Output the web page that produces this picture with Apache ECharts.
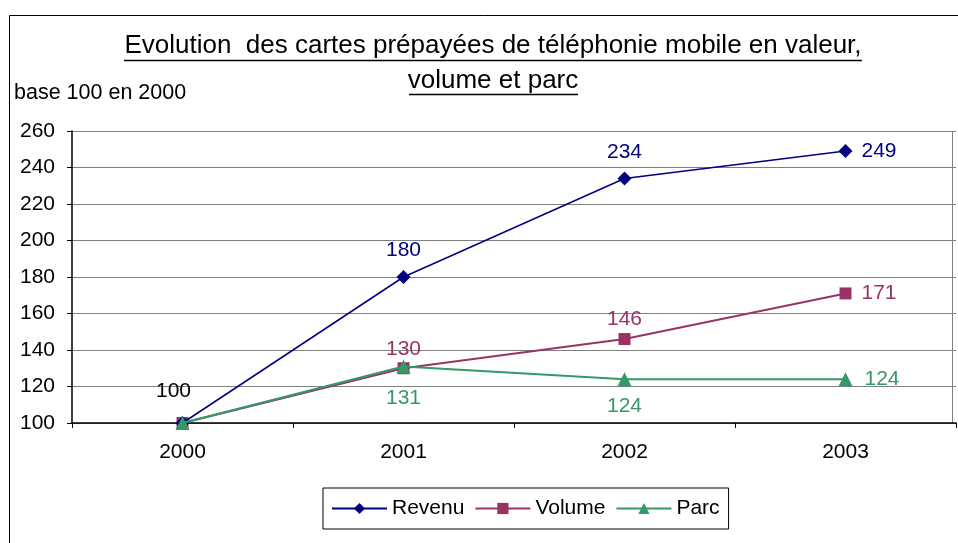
<!DOCTYPE html>
<html>
<head>
<meta charset="utf-8">
<script src="https://cdn.jsdelivr.net/npm/echarts@6/dist/echarts.min.js"></script>
<style>
  html, body { margin: 0; padding: 0; background: #fff; }
  #main { width: 958px; height: 543px; }
</style>
</head>
<body>
<div id="main"></div>
<script>
var years = ["2000", "2001", "2002", "2003"];
var revenu = [100, 180, 234, 249];
var volume = [100, 130, 146, 171];
var parc = [100, 131, 124, 124];

var FONT = "Liberation Sans";

// label placement per point, as in the original
var revenuPos = ["top", "top", "top", "right"];
var volumePos = ["top", "top", "top", "right"];
var parcPos = ["bottom", "bottom", "bottom", "right"];

function withLabels(values, positions, showFirst) {
  return values.map(function (v, i) {
    return {
      value: v,
      label: { show: i > 0 || showFirst, position: positions[i] }
    };
  });
}

var myChart = echarts.init(document.getElementById("main"));

var volumeData = withLabels(volume, volumePos, true);
// the "100" at 2000 is drawn in black, slightly left
volumeData[0].label.color = "#000";
volumeData[0].label.offset = [-9, -12];
volumeData[3].label.distance = 10;

var parcData = withLabels(parc, parcPos, false);
parcData[1].label.distance = 14;
parcData[3].label.distance = 12;

var option = {
  animation: false,
  textStyle: { fontFamily: FONT },
  grid: { left: 72, right: 2, top: 131, bottom: 120 },
  graphic: [
    // outer chart frame
    { type: "rect", shape: { x: 9.5, y: 15.5, width: 1000, height: 600 },
      style: { fill: null, stroke: "#000", lineWidth: 1 } },
    { type: "text", x: 493, y: 33,
      style: { text: "Evolution  des cartes prépayées de téléphonie mobile en valeur,",
        font: "26px " + FONT, fill: "#000", align: "center", verticalAlign: "top" } },
    { type: "text", x: 493, y: 68,
      style: { text: "volume et parc", font: "26px " + FONT, fill: "#000",
        align: "center", verticalAlign: "top" } },
    { type: "line", shape: { x1: 124, y1: 60.5, x2: 862, y2: 60.5 },
      style: { stroke: "#000", lineWidth: 1.5 } },
    { type: "line", shape: { x1: 409, y1: 94.5, x2: 578, y2: 94.5 },
      style: { stroke: "#000", lineWidth: 1.5 } },
    { type: "text", x: 14, y: 82,
      style: { text: "base 100 en 2000", font: "21.5px " + FONT, fill: "#000",
        verticalAlign: "top" } },
    // top and right border of plot area
    { type: "polyline", shape: { points: [[72, 131.5], [952.5, 131.5], [952.5, 423]] },
      style: { stroke: "#808080", lineWidth: 1, fill: null } }
  ],
  legend: {
    top: 488,
    left: 323,
    orient: "horizontal",
    borderColor: "#000",
    borderWidth: 1,
    padding: [10, 9, 10, 8],
    itemGap: 10,
    itemWidth: 55,
    itemHeight: 14,
    textStyle: { fontSize: 21, color: "#000", fontFamily: FONT },
    data: ["Revenu", "Volume", "Parc"]
  },
  xAxis: {
    type: "category",
    data: years,
    boundaryGap: true,
    axisLine: { lineStyle: { color: "#000", width: 1.5 } },
    axisTick: { show: true, length: 5, lineStyle: { color: "#000" } },
    axisLabel: { color: "#000", fontSize: 21, margin: 19, fontFamily: FONT }
  },
  yAxis: {
    type: "value",
    min: 100,
    max: 260,
    interval: 20,
    axisLine: { show: true, lineStyle: { color: "#000", width: 1.5 } },
    axisTick: { show: true, length: 5, lineStyle: { color: "#000" } },
    axisLabel: { color: "#000", fontSize: 21, margin: 17, fontFamily: FONT },
    splitLine: { lineStyle: { color: "#808080", width: 1 } }
  },
  series: [
    {
      name: "Revenu",
      type: "line",
      data: withLabels(revenu, revenuPos, false),
      symbol: "diamond",
      symbolSize: 14,
      lineStyle: { color: "#000080", width: 1.5 },
      itemStyle: { color: "#000080" },
      label: { color: "#000080", fontSize: 21, distance: 9, fontFamily: FONT },
      z: 3
    },
    {
      name: "Volume",
      type: "line",
      data: volumeData,
      symbol: "rect",
      symbolSize: 12,
      lineStyle: { color: "#993366", width: 2 },
      itemStyle: { color: "#993366" },
      label: { color: "#993366", fontSize: 21, distance: 3, fontFamily: FONT },
      z: 2
    },
    {
      name: "Parc",
      type: "line",
      data: parcData,
      symbol: "triangle",
      symbolSize: 14,
      lineStyle: { color: "#339966", width: 2 },
      itemStyle: { color: "#339966" },
      label: { color: "#339966", fontSize: 21, distance: 10, fontFamily: FONT },
      z: 4
    }
  ]
};

myChart.setOption(option);
</script>
</body>
</html>
